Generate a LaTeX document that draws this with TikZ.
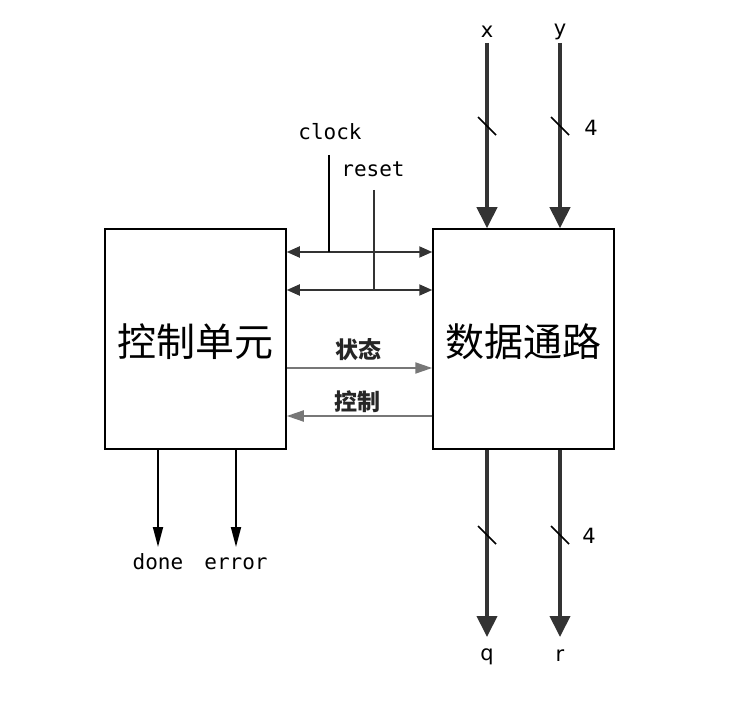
\documentclass[tikz,border=0pt]{standalone}
\usepackage{fontspec}
\usetikzlibrary{arrows.meta}
\newfontfamily\cjk{Noto Sans CJK SC}
\newfontfamily\monof{DejaVu Sans Mono}
\newfontfamily\sansf{DejaVu Sans}
\definecolor{dk}{HTML}{333333}
\definecolor{gr}{HTML}{777777}
\begin{document}
\begin{tikzpicture}[x=1pt,y=-1pt,
  blk/.style={draw=black,line width=1.5pt,minimum width=181pt,minimum height=220pt,inner sep=0pt},
  big/.style={font=\cjk\fontsize{39}{39}\selectfont},
  mono/.style={font=\monof\fontsize{21}{21}\selectfont},
  sans/.style={font=\sansf\fontsize{21}{21}\selectfont},
  bus/.style={draw=dk,line width=4pt,-{Triangle[width=20pt,length=21pt]}},
  ctl/.style={draw=dk,line width=2pt,{Triangle[width=11pt,length=13pt]}-{Triangle[width=11pt,length=13pt]}},
  sig/.style={draw=gr,line width=2pt,-{Triangle[width=11pt,length=17pt]}},
  outa/.style={draw=black,line width=1.8pt,-{Triangle[width=10pt,length=20pt]}},
  slash/.style={draw=black,line width=1.5pt},
  lbl/.style={font=\cjk\bfseries\fontsize{23}{23}\selectfont,text=black!85}]
\useasboundingbox (0,0) rectangle (742,711);
\node[blk] (cu) at (195.5,339) {};
\node[big] at (195.5,342) {控制单元};
\node[blk] (dp) at (523.5,339) {};
\node[big] at (523.5,342) {数据通路};
% clock / reset
\node[mono] (clk) at (330,132) {clock};
\node[mono] (rst) at (373,169) {reset};
\coordinate (clkT) at (329,155);
\coordinate (rstT) at (374,190);
\coordinate (c1L) at (cu.east |- 0,252);
\coordinate (c1R) at (dp.west |- 0,252);
\coordinate (c2L) at (cu.east |- 0,290);
\coordinate (c2R) at (dp.west |- 0,290);
\draw[ctl] (c1L) -- (c1R);
\draw[ctl] (c2L) -- (c2R);
\draw[draw=black,line width=2pt] (clkT) -- (clkT |- c1L);
\draw[draw=dk,line width=2pt] (rstT) -- (rstT |- c2L);
% status / control
\coordinate (s1L) at (cu.east |- 0,368);
\coordinate (s1R) at (dp.west |- 0,368);
\coordinate (s2L) at (cu.east |- 0,416);
\coordinate (s2R) at (dp.west |- 0,416);
\draw[sig] (s1L) -- (s1R);
\draw[sig] (s2R) -- (s2L);
\node[lbl] (zt) at (358,350) {状态};
\node[lbl] (kz) at (357,402) {控制};
% inputs
\node[sans] (xl) at (487,32) {x};
\node[sans] (yl) at (560,32) {y};
\coordinate (xT) at (487,43);
\coordinate (yT) at (560,43);
\draw[bus] (xT) -- (xT |- dp.north);
\draw[bus] (yT) -- (yT |- dp.north);
\draw[slash] (478,117) -- (496,135);
\draw[slash] (551,117) -- (569,135);
\node[sans] (n4a) at (591,128) {4};
% outputs
\coordinate (qB) at (487,637);
\coordinate (rB) at (560,637);
\draw[bus] (dp.south -| qB) -- (qB);
\draw[bus] (dp.south -| rB) -- (rB);
\draw[slash] (478,526) -- (496,544);
\draw[slash] (551,526) -- (569,544);
\node[sans] (n4b) at (589,536) {4};
\node[sans] (ql) at (487,657) {q};
\node[sans] (rl) at (560,656) {r};
\coordinate (dB) at (158,547);
\coordinate (eB) at (236,547);
\draw[outa] (cu.south -| dB) -- (dB);
\draw[outa] (cu.south -| eB) -- (eB);
\node[mono] (dl) at (158,562) {done};
\node[mono] (el) at (236,564) {error};
\end{tikzpicture}
\end{document}
